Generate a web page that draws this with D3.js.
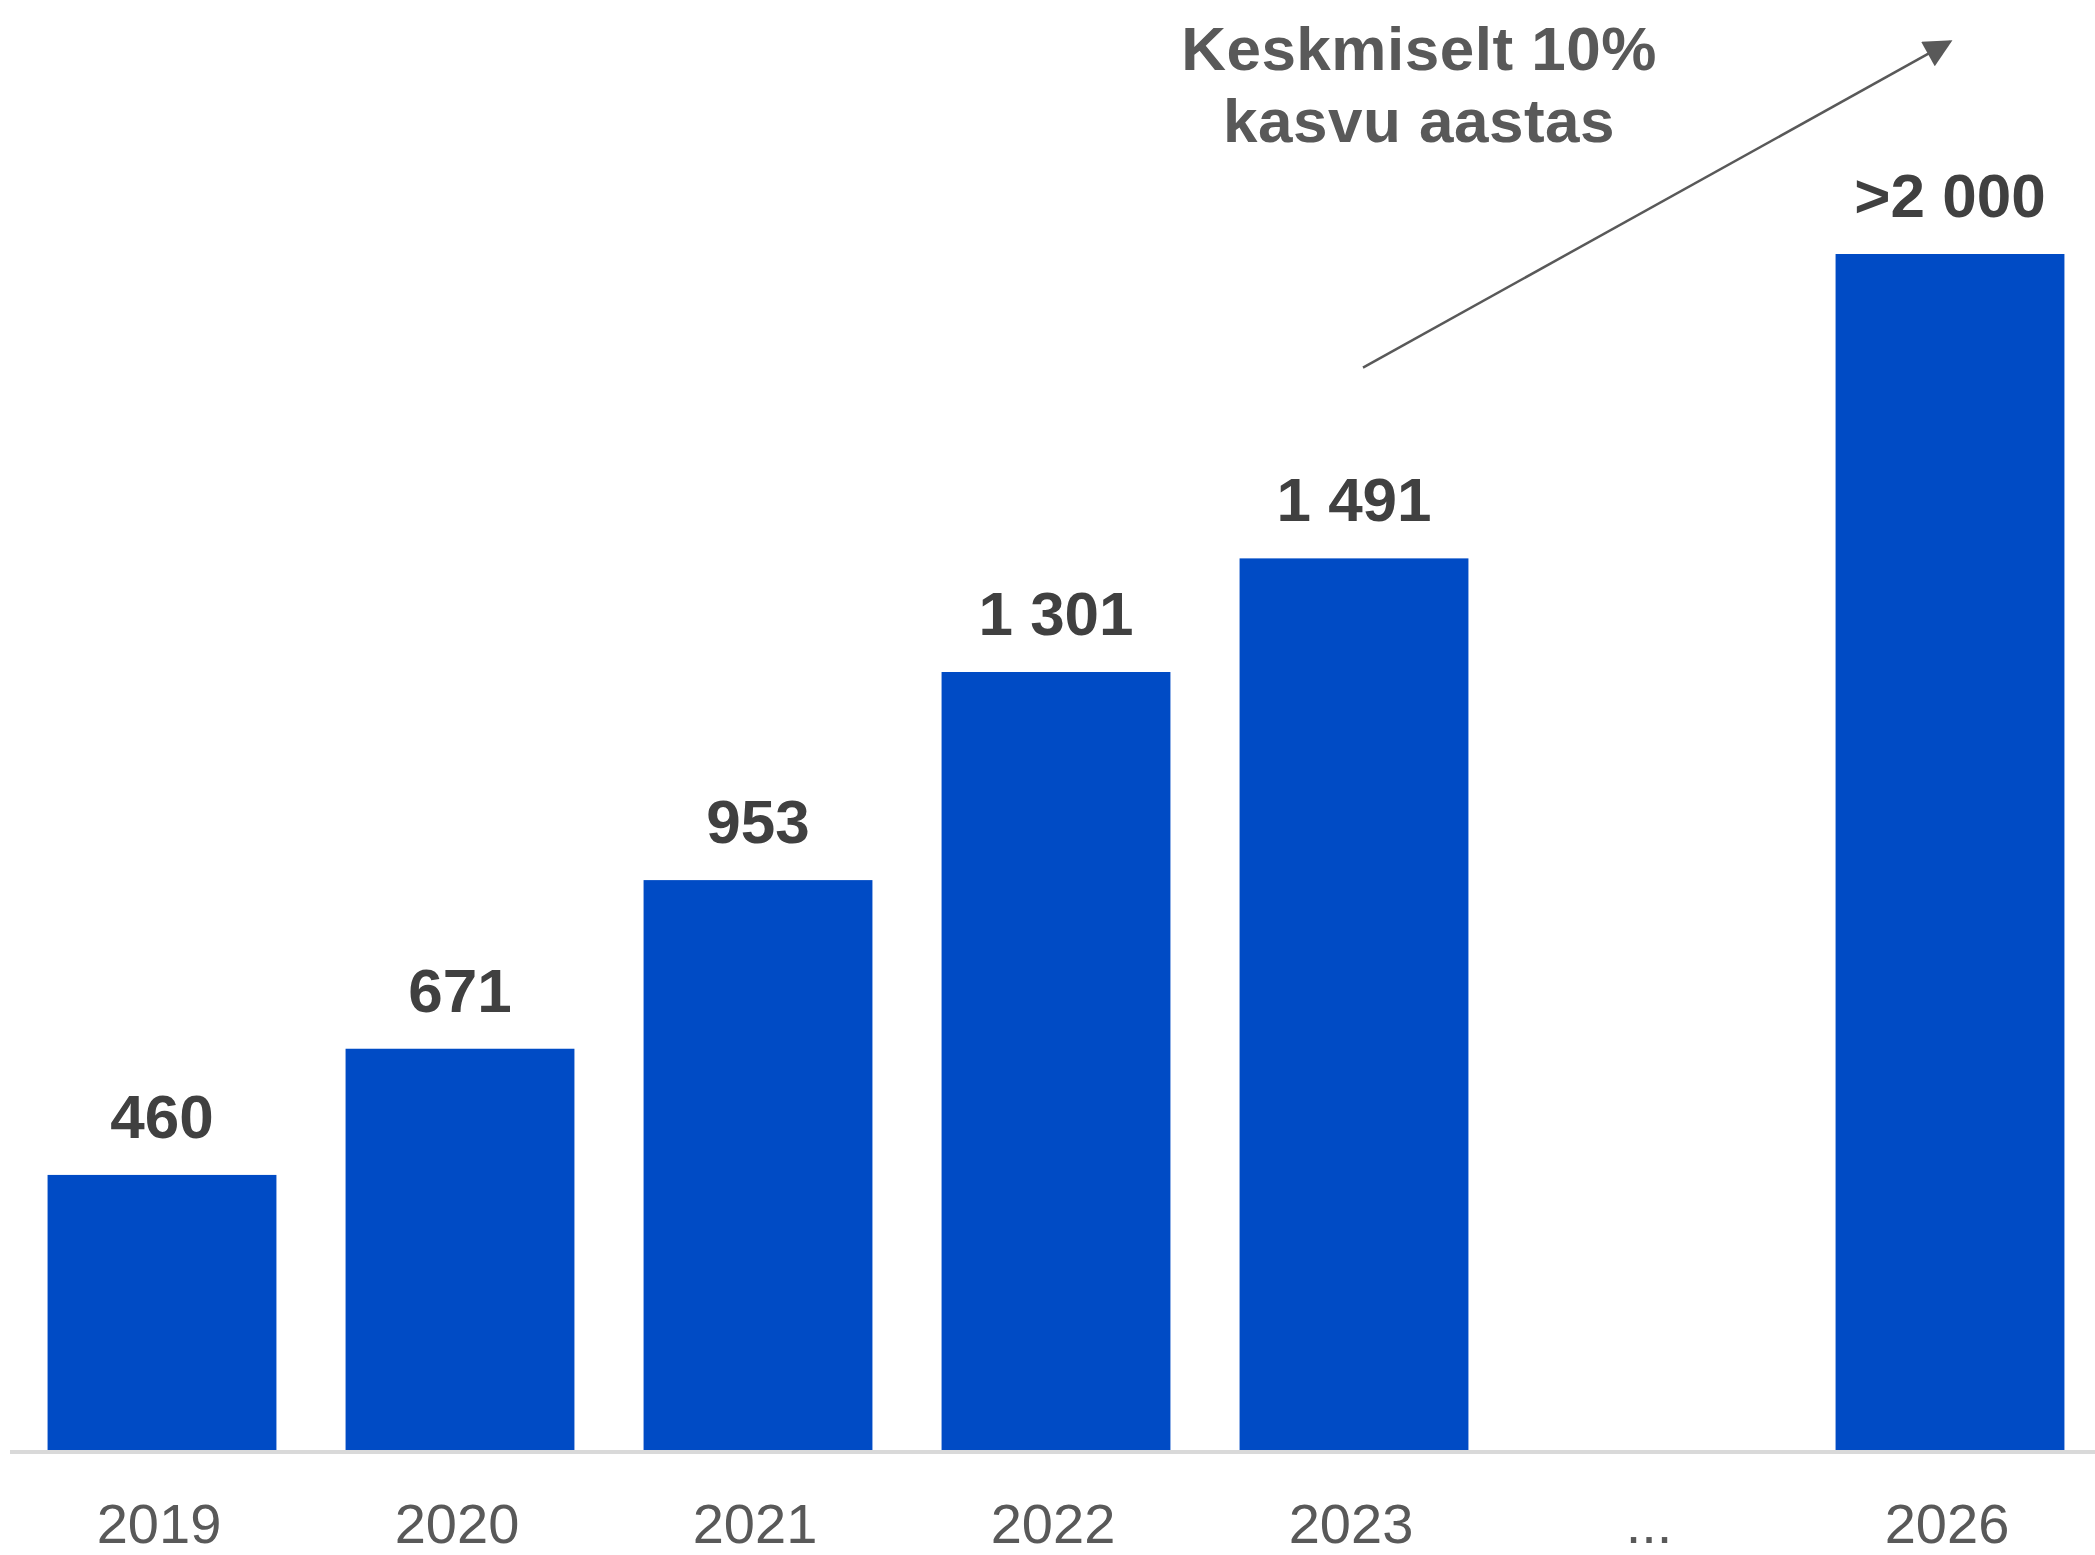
<!DOCTYPE html>
<html>
<head>
<meta charset="utf-8">
<script src="https://cdn.jsdelivr.net/npm/d3@7"></script>
<style>
  html, body { margin: 0; padding: 0; background: #fff; }
  svg { display: block; font-family: "Liberation Sans", Arial, sans-serif; }
</style>
</head>
<body>
<div class="graph-pane"></div>
<script>
// categories and values
const years = ["2019", "2020", "2021", "2022", "2023", "...", "2026"];
const values = [460, 671, 953, 1301, 1491, null, 2000];
const valueLabels = ["460", "671", "953", "1 301", "1 491", "", ">2 000"];
const noteLines = ["Keskmiselt 10%", "kasvu aastas"];
// growth arrow, in data units: from 2023 to 2026
const arrowFrom = {year: "2023", value: 1810};
const arrowTo = {year: "2026", value: 2355};

const width = 2095, height = 1555;
const baseY = 1450;

const svg = d3.select(".graph-pane")
  .append("svg")
  .attr("width", width)
  .attr("height", height);

const x = d3.scaleBand()
  .domain(years)
  .range([13, 2099])
  .paddingInner(0.232)
  .paddingOuter(0.116);

const y = d3.scaleLinear()
  .domain([0, 2000])
  .range([baseY, 254]);

const data = years.map((yr, i) => ({year: yr, value: values[i], label: valueLabels[i]}));

// bars
svg.append("g")
  .selectAll("rect")
  .data(data.filter(d => d.value != null))
  .join("rect")
  .attr("x", d => x(d.year))
  .attr("y", d => y(d.value))
  .attr("width", x.bandwidth())
  .attr("height", d => baseY - y(d.value))
  .attr("fill", "#004bc5");

// baseline
svg.append("line")
  .attr("x1", 10)
  .attr("x2", width)
  .attr("y1", baseY + 2)
  .attr("y2", baseY + 2)
  .attr("stroke", "#d9d9d9")
  .attr("stroke-width", 4);

// value labels
svg.append("g")
  .selectAll("text")
  .data(data.filter(d => d.value != null))
  .join("text")
  .attr("x", d => x(d.year) + x.bandwidth() / 2)
  .attr("y", d => y(d.value) - 37)
  .attr("text-anchor", "middle")
  .attr("font-size", 62)
  .attr("font-weight", "bold")
  .attr("fill", "#404040")
  .text(d => d.label);

// x axis labels
const xAxis = d3.axisBottom(x).tickSize(0).tickPadding(0);
const gx = svg.append("g")
  .attr("transform", "translate(-3," + baseY + ")")
  .call(xAxis);
gx.select(".domain").remove();
gx.selectAll("text")
  .attr("dy", null)
  .attr("y", 93)
  .attr("font-size", 56)
  .attr("font-family", "Liberation Sans, Arial, sans-serif")
  .attr("fill", "#595959");

// arrow
svg.append("defs").append("marker")
  .attr("id", "head")
  .attr("viewBox", "0 0 10 10")
  .attr("refX", 9)
  .attr("refY", 5)
  .attr("markerUnits", "userSpaceOnUse")
  .attr("markerWidth", 34)
  .attr("markerHeight", 28)
  .attr("orient", "auto")
  .append("path")
  .attr("d", "M0,0 L10,5 L0,10 Z")
  .attr("fill", "#595959");

svg.append("line")
  .attr("x1", x(arrowFrom.year) + x.bandwidth() / 2 + 9)
  .attr("y1", y(arrowFrom.value))
  .attr("x2", x(arrowTo.year) + x.bandwidth() / 2)
  .attr("y2", y(arrowTo.value))
  .attr("stroke", "#595959")
  .attr("stroke-width", 2.5)
  .attr("marker-end", "url(#head)");

// note text
svg.append("g")
  .selectAll("text")
  .data(noteLines)
  .join("text")
  .attr("x", 1419)
  .attr("y", (d, i) => 70 + i * 72)
  .attr("text-anchor", "middle")
  .attr("font-size", 62)
  .attr("font-weight", "bold")
  .attr("letter-spacing", 0.5)
  .attr("fill", "#595959")
  .text(d => d);
</script>
</body>
</html>
